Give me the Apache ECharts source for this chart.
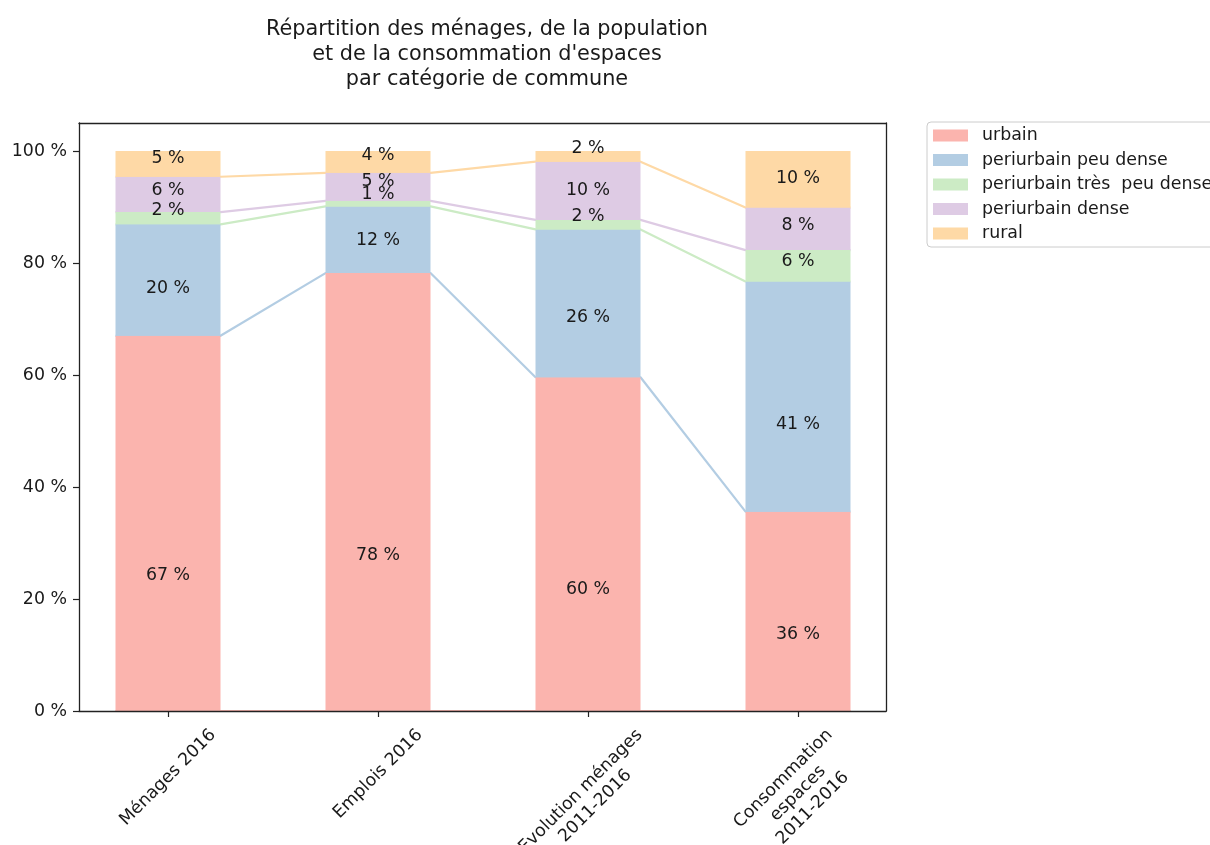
<!DOCTYPE html>
<html>
<head>
<meta charset="utf-8">
<script src="https://cdn.jsdelivr.net/npm/echarts@6/dist/echarts.min.js"></script>
<style>
  html, body { margin: 0; padding: 0; background: #ffffff; }
  #chart { width: 1210px; height: 845px; }
</style>
</head>
<body>
<div id="chart"></div>
<script>
// Chart text
const titleText = "Répartition des ménages, de la population\net de la consommation d'espaces\npar catégorie de commune";
const categories = ['Ménages 2016', 'Emplois 2016', 'Evolution ménages\n2011-2016', 'Consommation\nespaces\n2011-2016'];
const seriesNames = ['urbain', 'periurbain peu dense', 'periurbain très  peu dense', 'periurbain dense', 'rural'];

// Shares (%) per category of commune, bottom to top of each stacked bar
const urbain                 = [67.0, 78.2, 59.6, 35.6];
const periurbainPeuDense     = [19.9, 11.9, 26.4, 41.1];
const periurbainTresPeuDense = [2.2, 1.0, 1.7, 5.6];
const periurbainDense        = [6.3, 5.0, 10.4, 7.6];
const rural                  = [4.6, 3.9, 1.9, 10.1];

// Y axis tick values
const yTicks = [0, 20, 40, 60, 80, 100];

const values = [urbain, periurbainPeuDense, periurbainTresPeuDense, periurbainDense, rural];
const colors = ['#fbb4ae', '#b3cde3', '#ccebc5', '#decbe4', '#fed9a6'];

const FONT = '"DejaVu Sans", sans-serif';
const TEXT = '#1a1a1a';
const AXIS = '#222222';
const FS = 17.4;
const LINE_H = 20.8;
const BAR_FRACTION = 0.5;   // bar width as a share of the category step
const LABEL_GAP = 14;       // axis line to top of the rotated category labels

// Cumulative base of each segment; the connector lines run across each bar
// at that level and join the edge of one bar to the edge of the next.
const bases = values.map((_, k) =>
  categories.map((_, i) => values.slice(0, k).reduce((s, arr) => s + arr[i], 0)));
const connectorPoints = bases.map(b => {
  const pts = [];
  b.forEach((v, i) => {
    pts.push([i - BAR_FRACTION / 2, v]);
    pts.push([i + BAR_FRACTION / 2, v]);
  });
  return pts;
});

// Rotated (45°) category labels: each rotated box is centred under its tick
// and all boxes share the same top edge. Labels are top-anchored; the padding
// moves each text block inside its own frame to reach that placement.
const ctx = document.createElement('canvas').getContext('2d');
ctx.font = FS + 'px ' + FONT;
const labelBlocks = categories.map(c => {
  const lines = c.split('\n');
  const w = Math.max(...lines.map(l => ctx.measureText(l).width));
  const h = lines.length * LINE_H;
  return { w, h, k: (w - h) / 4 };
});
const kMin = Math.min(...labelBlocks.map(b => b.k));
const categoryData = categories.map((c, i) => {
  const b = labelBlocks[i];
  const padTop = b.k - kMin;
  const padRight = b.h + 2 * padTop;
  return { value: c, textStyle: { align: 'center', verticalAlign: 'top', padding: [padTop, padRight, 0, 0] } };
});

const frameLine = { show: true, onZero: false, lineStyle: { color: AXIS, width: 1.3 } };

// Value labels sit a third of the way up each segment
const barSeries = values.map((data, k) => ({
  name: seriesNames[k],
  type: 'bar',
  xAxisIndex: 2,
  yAxisIndex: 2,
  stack: 'total',
  barWidth: (BAR_FRACTION * 100) + '%',
  data: data,
  itemStyle: { color: colors[k] },
  label: {
    show: true,
    position: ['50%', '66.667%'],
    align: 'center',
    verticalAlign: 'middle',
    offset: [0, -10],
    formatter: p => Math.round(p.value) + ' %',
    color: TEXT,
    fontSize: FS,
    fontFamily: FONT
  },
  emphasis: { disabled: true },
  z: 3
}));

const lineSeries = connectorPoints.map((data, k) => ({
  name: seriesNames[k] + ' (base)',
  type: 'line',
  xAxisIndex: 3,
  yAxisIndex: 2,
  data: data,
  symbol: 'none',
  lineStyle: { color: colors[k], width: 2.2 },
  itemStyle: { color: colors[k] },
  emphasis: { disabled: true },
  z: 2
}));

const chart = echarts.init(document.getElementById('chart'), null, { renderer: 'canvas' });
chart.setOption({
  animation: false,
  backgroundColor: '#ffffff',
  title: {
    text: titleText,
    left: 482,
    top: 12,
    textAlign: 'center',
    textStyle: { fontSize: 20.8, lineHeight: 25, fontWeight: 'normal', color: TEXT, fontFamily: FONT }
  },
  legend: {
    orient: 'vertical',
    left: 927,
    top: 122,
    padding: [5, 6, 5, 6],
    itemGap: 7.5,
    itemWidth: 35,
    itemHeight: 12,
    icon: 'rect',
    data: seriesNames,
    borderColor: '#cccccc',
    borderWidth: 1,
    borderRadius: 4,
    backgroundColor: 'rgba(255,255,255,0.8)',
    textStyle: { fontSize: FS, color: TEXT, fontFamily: FONT, padding: [0, 0, 0, 9] }
  },
  grid: [
    { left: 79, top: 123, width: 807, height: 588, outerBoundsMode: 'none', containLabel: false },
    { left: 63, top: 123, width: 840, height: 588, outerBoundsMode: 'none', containLabel: false }
  ],
  xAxis: [
    { gridIndex: 0, type: 'value', min: 0, max: 1, position: 'bottom', z: 10,
      axisLine: frameLine, axisTick: { show: false }, axisLabel: { show: false }, splitLine: { show: false } },
    { gridIndex: 0, type: 'value', min: 0, max: 1, position: 'top', z: 10,
      axisLine: frameLine, axisTick: { show: false }, axisLabel: { show: false }, splitLine: { show: false } },
    { gridIndex: 1, type: 'category', data: categoryData, boundaryGap: true, position: 'bottom',
      axisLine: { show: false },
      axisTick: { show: true, alignWithLabel: true, length: 6, lineStyle: { color: AXIS, width: 1.2 } },
      axisLabel: {
        interval: 0, rotate: 45,
        margin: LABEL_GAP + Math.SQRT2 * kMin, fontSize: FS, lineHeight: LINE_H, color: TEXT, fontFamily: FONT
      },
      splitLine: { show: false } },
    { gridIndex: 1, type: 'value', min: -0.5, max: categories.length - 0.5, show: false, splitLine: { show: false } }
  ],
  yAxis: [
    { gridIndex: 0, type: 'value', min: 0, max: 105, position: 'left', z: 10,
      axisLine: frameLine,
      axisTick: { show: true, length: 6, customValues: yTicks, lineStyle: { color: AXIS, width: 1.2 } },
      axisLabel: { customValues: yTicks, formatter: v => v + ' %', margin: 12, fontSize: FS, color: TEXT, fontFamily: FONT },
      splitLine: { show: false } },
    { gridIndex: 0, type: 'value', min: 0, max: 105, position: 'right', z: 10,
      axisLine: frameLine, axisTick: { show: false }, axisLabel: { show: false }, splitLine: { show: false } },
    { gridIndex: 1, type: 'value', min: 0, max: 105, show: false, splitLine: { show: false } }
  ],
  series: [...lineSeries, ...barSeries]
});
</script>
</body>
</html>
